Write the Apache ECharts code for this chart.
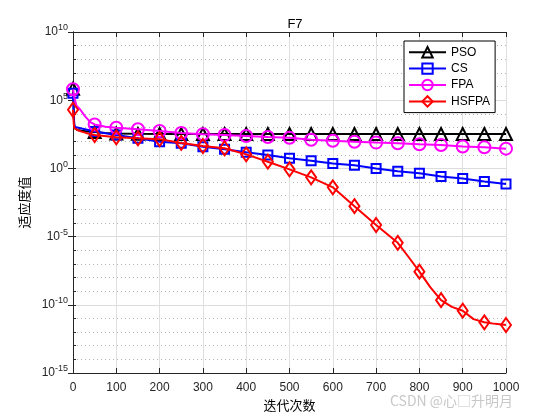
<!DOCTYPE html>
<html>
<head>
<meta charset="utf-8">
<script src="https://cdn.jsdelivr.net/npm/echarts@6/dist/echarts.min.js"></script>
<style>html,body{margin:0;padding:0;background:#fff;}#c{width:560px;height:420px;}</style>
</head>
<body>
<div id="c"></div>
<script>
var title = 'F7';
var seriesNames = ['PSO', 'CS', 'FPA', 'HSFPA'];
var xTicks = [0, 100, 200, 300, 400, 500, 600, 700, 800, 900, 1000];

var psoIter = [0, 1, 2, 3, 5, 10, 20, 30, 50, 75, 100, 150, 200, 250, 300, 350, 400, 450, 500, 550, 600, 650, 700, 750, 800, 850, 900, 950, 1000];
var psoVal = [7e5, 1e5, 8e3, 1e3, 8e2, 6.6e2, 5.8e2, 5.2e2, 4.6e2, 4e2, 3.6e2, 3.4e2, 3.3e2, 3.3e2, 3.3e2, 3.3e2, 3.3e2, 3.3e2, 3.3e2, 3.3e2, 3.3e2, 3.3e2, 3.3e2, 3.3e2, 3.3e2, 3.3e2, 3.3e2, 3.3e2, 3.3e2];

var csIter = [0, 1, 2, 3, 5, 10, 20, 30, 50, 100, 150, 200, 250, 300, 350, 400, 450, 500, 550, 600, 650, 700, 750, 800, 850, 900, 950, 1000];
var csVal = [3.2e5, 4e4, 4e3, 1.6e3, 1.1e3, 1e3, 8.3e2, 7.1e2, 5e2, 2.8e2, 1.6e2, 91, 69, 39, 25, 15, 9.5, 5.5, 3.7, 2.3, 1.7, 1.0, 0.62, 0.44, 0.25, 0.18, 0.11, 0.072];

var fpaIter = [0, 3, 8, 17, 28, 40, 50, 75, 100, 150, 200, 250, 300, 350, 400, 450, 500, 550, 600, 650, 700, 750, 800, 850, 900, 950, 1000];
var fpaVal = [6.3e5, 1.6e5, 4e4, 2e4, 6.6e3, 2.5e3, 1.66e3, 1.12e3, 955, 741, 550, 398, 316, 282, 240, 200, 174, 126, 107, 91, 78, 69, 59, 52, 40, 35.5, 28];

var hsIter = [0, 1, 2, 3, 5, 10, 20, 30, 50, 100, 150, 200, 250, 300, 350, 400, 450, 500, 550, 600, 650, 700, 750, 775, 800, 825, 850, 875, 900, 925, 950, 975, 1000];
var hsVal = [2e4, 5e3, 1.6e3, 9.1e2, 7.9e2, 6.6e2, 5e2, 4e2, 2.8e2, 1.9e2, 1.6e2, 1.4e2, 74, 44, 30, 10.7, 3.1, 0.85, 0.22, 0.041, 1.7e-3, 7.1e-5, 3.5e-6, 3.2e-7, 2.7e-8, 2e-9, 2.2e-10, 7.1e-11, 3.7e-11, 8.9e-12, 5.2e-12, 4e-12, 3.3e-12];

var markerStep = 50;

function build(iters, vals) {
  return iters.map(function (x, i) {
    var item = { value: [x, vals[i]] };
    if (x % markerStep !== 0) item.symbol = 'none';
    return item;
  });
}

var styles = [
  { color: '#000000', symbol: 'triangle', size: 12 },
  { color: '#0000ff', symbol: 'rect', size: 9 },
  { color: '#ff00ff', symbol: 'circle', size: 12 },
  { color: '#ff0000', symbol: 'diamond', size: [10, 14] }
];
var allData = [[psoIter, psoVal], [csIter, csVal], [fpaIter, fpaVal], [hsIter, hsVal]];

var series = seriesNames.map(function (n, k) {
  var s = styles[k];
  return {
    name: n,
    type: 'line',
    xAxisIndex: 0,
    yAxisIndex: 0,
    data: build(allData[k][0], allData[k][1]),
    symbol: s.symbol,
    symbolSize: s.size,
    showAllSymbol: true,
    lineStyle: { color: s.color, width: 2 },
    itemStyle: { color: 'rgba(255,255,255,0)', borderColor: s.color, borderWidth: 2 },
    emphasis: { disabled: true },
    animation: false,
    z: 2 + k
  };
});

var axisColor = '#262626';
var fontLatin = 'Liberation Sans, Arial, sans-serif';
var chart = echarts.init(document.getElementById('c'), null, { renderer: 'canvas' });
chart.setOption({
  backgroundColor: '#ffffff',
  animation: false,
  title: {
    text: title, left: 290, top: 13, textAlign: 'center',
    textStyle: { fontFamily: fontLatin, fontSize: 13, fontWeight: 'normal', color: '#000' }
  },
  grid: { left: 73, right: 54, top: 32, bottom: 47, show: false },
  legend: {
    orient: 'vertical', left: 404, top: 41,
    data: seriesNames,
    itemWidth: 37, itemHeight: 13, itemGap: 4,
    padding: [5, 5, 5, 4],
    backgroundColor: '#ffffff', borderColor: '#000', borderWidth: 1,
    textStyle: { fontFamily: fontLatin, fontSize: 12, color: '#000' }
  },
  xAxis: [{
    type: 'value', min: 0, max: 1000, interval: 100, position: 'bottom',
    name: '迭代次数', nameLocation: 'middle', nameGap: 24,
    nameTextStyle: { fontFamily: 'Noto Sans CJK SC', fontSize: 13, color: '#000' },
    axisLine: { show: true, lineStyle: { color: axisColor, width: 1 } },
    axisTick: { show: true, inside: true, length: 5, lineStyle: { color: axisColor } },
    axisLabel: { fontFamily: fontLatin, fontSize: 12, color: axisColor, margin: 9, formatter: function (v) { return String(v); } },
    splitLine: { show: true, lineStyle: { color: '#dfdfdf', width: 1 } }
  }, {
    type: 'value', min: 0, max: 1000, interval: 100, position: 'top',
    axisLine: { show: true, lineStyle: { color: axisColor, width: 1 } },
    axisTick: { show: true, inside: true, length: 5, lineStyle: { color: axisColor } },
    axisLabel: { show: false }, splitLine: { show: false }
  }],
  yAxis: [{
    type: 'log', logBase: 10, min: 1e-15, max: 1e10, interval: 1, position: 'left',
    name: '适应度值', nameLocation: 'middle', nameGap: 40, nameRotate: 90,
    nameTextStyle: { fontFamily: 'Noto Sans CJK SC', fontSize: 13, color: '#000' },
    axisLine: { show: true, lineStyle: { color: axisColor, width: 1 } },
    axisTick: { show: true, inside: true, length: 3, lineStyle: { color: axisColor } },
    splitLine: { show: true, lineStyle: { color: '#b4b4b4', type: [1, 3], width: 1 } },
    axisLabel: {
      margin: 5,
      showMinLabel: true, showMaxLabel: true,
      interval: 0,
      formatter: function (v) {
        var e = Math.round(Math.log(v) / Math.LN10);
        if (e % 5 !== 0) return '';
        return '{b|10}{s|' + e + '}';
      },
      rich: {
        b: { fontFamily: fontLatin, fontSize: 12, color: axisColor },
        s: { fontFamily: fontLatin, fontSize: 9, color: axisColor, padding: [0, 0, 8, 0] }
      }
    }
  }, {
    type: 'log', logBase: 10, min: 1e-15, max: 1e10, interval: 5, position: 'right',
    axisLine: { show: true, lineStyle: { color: axisColor, width: 1 } },
    axisTick: { show: true, inside: true, length: 5, lineStyle: { color: axisColor } },
    axisLabel: { show: false },
    splitLine: { show: true, lineStyle: { color: '#dcdcdc', width: 1 } }
  }],
  graphic: [{
    type: 'text', left: 390, top: 394,
    style: { text: 'CSDN @心\u25A1升明月', fontFamily: 'Noto Sans CJK SC', fontSize: 14, fill: '#c8c8c8' }
  }],
  series: series
});
</script>
</body>
</html>
